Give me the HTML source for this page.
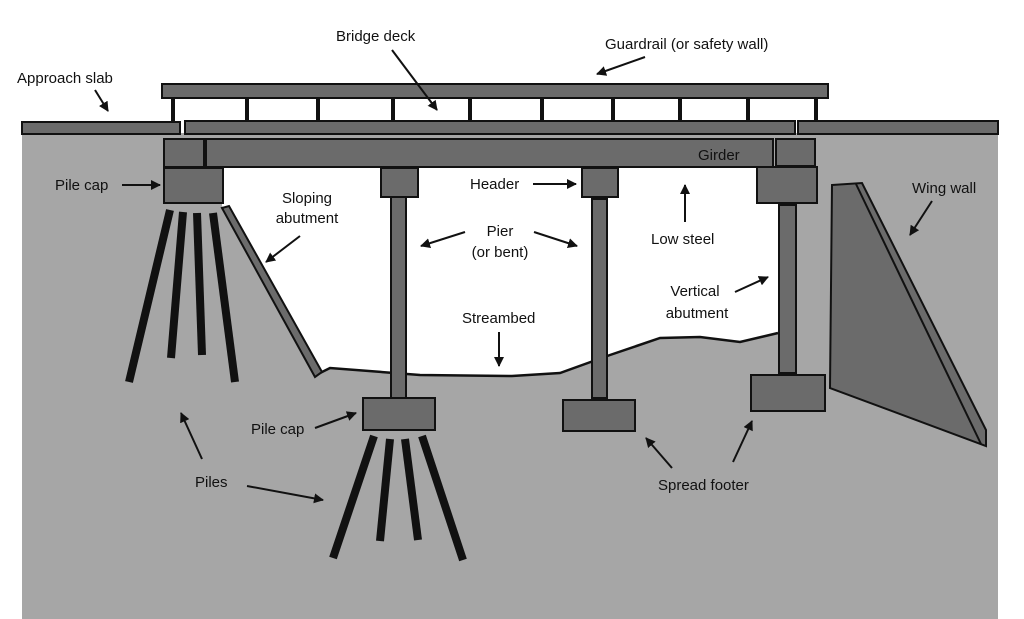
<!DOCTYPE html>
<html><head><meta charset="utf-8"><style>
html,body{margin:0;padding:0;background:#fff;width:1024px;height:619px;overflow:hidden}
text{font-family:"Liberation Sans",sans-serif;font-size:15px;fill:#111}
</style></head><body>
<svg width="1024" height="619" viewBox="0 0 1024 619" xmlns="http://www.w3.org/2000/svg">
<defs><marker id="a" viewBox="0 0 10 10" refX="9" refY="5" markerWidth="5" markerHeight="5" orient="auto"><path d="M0,0 L10,5 L0,10 z" fill="#111"/></marker></defs>
<rect x="22" y="133" width="976" height="486" fill="#a6a6a6"/>
<path d="M222,167 L778,167 L778,333 L740,342 L700,337 L660,338 L610,355 L560,373 L512,376 L420,375 L330,368 L318,374 L222,206 Z" fill="#fff"/>
<path d="M318,374 L330,368 L420,375 L512,376 L560,373 L610,355 L660,338 L700,337 L740,342 L778,333" fill="none" stroke="#111" stroke-width="2.5"/>
<g stroke="#111" stroke-width="2" fill="#6b6b6b">
<rect x="162" y="84" width="666" height="14"/>
<rect x="22" y="122" width="158" height="12"/>
<rect x="185" y="121" width="610" height="13"/>
<rect x="798" y="121" width="200" height="13"/>
<rect x="164" y="139" width="40" height="28"/>
<rect x="206" y="139" width="567" height="28"/>
<rect x="776" y="139" width="39" height="27"/>
<rect x="164" y="168" width="59" height="35"/>
<rect x="381" y="168" width="37" height="29"/>
<rect x="391" y="197" width="15" height="201"/>
<rect x="363" y="398" width="72" height="32"/>
<rect x="582" y="168" width="36" height="29"/>
<rect x="592" y="199" width="15" height="199"/>
<rect x="563" y="400" width="72" height="31"/>
<rect x="757" y="167" width="60" height="36"/>
<rect x="779" y="205" width="17" height="168"/>
<rect x="751" y="375" width="74" height="36"/>
<polygon points="832,185 862,183 986,430 986,446 830,388"/>
<polygon points="222,208 229,206 322,372 315,377" />
</g>
<line x1="856" y1="184" x2="981" y2="444" stroke="#111" stroke-width="2"/>
<g stroke="#111" stroke-width="4">
<line x1="173" y1="98" x2="173" y2="121"/><line x1="247" y1="98" x2="247" y2="121"/><line x1="318" y1="98" x2="318" y2="121"/><line x1="393" y1="98" x2="393" y2="121"/><line x1="470" y1="98" x2="470" y2="121"/><line x1="542" y1="98" x2="542" y2="121"/><line x1="613" y1="98" x2="613" y2="121"/><line x1="680" y1="98" x2="680" y2="121"/><line x1="748" y1="98" x2="748" y2="121"/><line x1="816" y1="98" x2="816" y2="121"/>
</g>
<g stroke="#111" stroke-width="8">
<line x1="170" y1="210" x2="129" y2="382"/><line x1="183" y1="212" x2="171" y2="358"/><line x1="197" y1="213" x2="202" y2="355"/><line x1="213" y1="213" x2="235" y2="382"/>
<line x1="374" y1="436" x2="333" y2="558"/><line x1="390" y1="439" x2="380" y2="541"/><line x1="405" y1="439" x2="418" y2="540"/><line x1="422" y1="436" x2="463" y2="560"/>
</g>
<g stroke="#111" stroke-width="2" marker-end="url(#a)">
<line x1="95" y1="90" x2="108" y2="111"/>
<line x1="392" y1="50" x2="437" y2="110"/>
<line x1="645" y1="57" x2="597" y2="74"/>
<line x1="122" y1="185" x2="160" y2="185"/>
<line x1="300" y1="236" x2="266" y2="262"/>
<line x1="533" y1="184" x2="576" y2="184"/>
<line x1="465" y1="232" x2="421" y2="246"/>
<line x1="534" y1="232" x2="577" y2="246"/>
<line x1="685" y1="222" x2="685" y2="185"/>
<line x1="932" y1="201" x2="910" y2="235"/>
<line x1="735" y1="292" x2="768" y2="277"/>
<line x1="499" y1="332" x2="499" y2="366"/>
<line x1="315" y1="428" x2="356" y2="413"/>
<line x1="202" y1="459" x2="181" y2="413"/>
<line x1="247" y1="486" x2="323" y2="500"/>
<line x1="672" y1="468" x2="646" y2="438"/>
<line x1="733" y1="462" x2="752" y2="421"/>
</g>
<text x="336" y="41">Bridge deck</text>
<text x="605" y="49">Guardrail (or safety wall)</text>
<text x="17" y="83">Approach slab</text>
<text x="55" y="190">Pile cap</text>
<text x="307" y="203" text-anchor="middle">Sloping</text>
<text x="307" y="223" text-anchor="middle">abutment</text>
<text x="470" y="189">Header</text>
<text x="500" y="236" text-anchor="middle">Pier</text>
<text x="500" y="257" text-anchor="middle">(or bent)</text>
<text x="698" y="160">Girder</text>
<text x="651" y="244">Low steel</text>
<text x="912" y="193">Wing wall</text>
<text x="695" y="296" text-anchor="middle">Vertical</text>
<text x="697" y="318" text-anchor="middle">abutment</text>
<text x="462" y="323">Streambed</text>
<text x="251" y="434">Pile cap</text>
<text x="195" y="487">Piles</text>
<text x="658" y="490">Spread footer</text>
</svg>
</body></html>
